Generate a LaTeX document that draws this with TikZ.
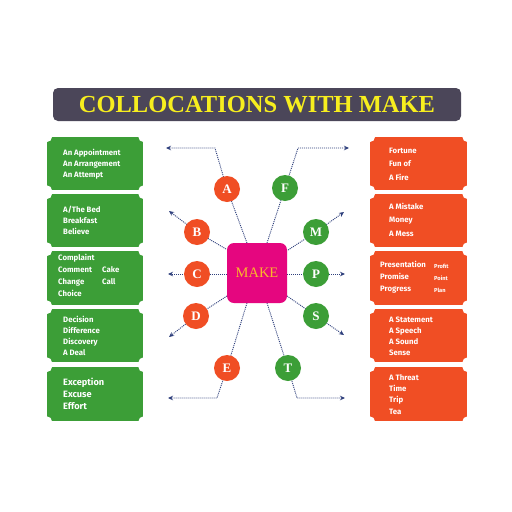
\documentclass[tikz,border=0pt]{standalone}
\usepackage{fontspec}
\setmainfont{Liberation Serif}
\newfontfamily\boxfont{Fira Sans}
\usetikzlibrary{arrows.meta}
\definecolor{titlebg}{HTML}{4B4659}
\definecolor{titlefg}{HTML}{F7EE1E}
\definecolor{grn}{HTML}{3C9E37}
\definecolor{org}{HTML}{F04E24}
\definecolor{mag}{HTML}{E5067F}
\definecolor{mktxt}{HTML}{F9B92A}
\definecolor{navy}{HTML}{2E3F7C}
\pgfdeclarelayer{back}
\pgfdeclarelayer{bg}
\pgfsetlayers{back,bg,main}
\begin{document}
\begin{tikzpicture}[x=1pt,y=-1pt,
  panel/.style={minimum width=96pt, inner sep=0, anchor=north west, draw=none},
  lbl/.style={anchor=mid west, inner sep=0, text=white, font=\boxfont\bfseries\fontsize{7.8}{9}\selectfont},
  biglbl/.style={lbl, font=\boxfont\bfseries\fontsize{9.2}{10}\selectfont},
  smalllbl/.style={lbl, font=\boxfont\bfseries\fontsize{5.7}{7}\selectfont},
  dot/.style={circle, minimum size=26pt, inner sep=0, text=white, font=\bfseries\fontsize{13}{13}\selectfont},
  dl/.style={draw=navy, line width=0.9pt, dash pattern=on 1pt off 1pt},
  ar/.style={dl, -{Stealth[length=5pt,width=4.5pt]}}
]
\begin{pgfonlayer}{back}
\fill[white] (0,0) rectangle (512,512);
\end{pgfonlayer}
\useasboundingbox (0,0) rectangle (512,512);

% title
\node[fill=titlebg, rounded corners=5pt, minimum width=408pt, minimum height=33pt, inner sep=0,
      text=titlefg, font=\bfseries\fontsize{24.5}{26}\selectfont] (title) at (257,104.5) {COLLOCATIONS WITH MAKE};

% panels
\foreach \t/\h [count=\i] in {137/53,194/53,251/54,309/53,367/54}{
  \node[panel, fill=grn, minimum height=\h pt] (pl\i) at (47,\t) {};
  \node[panel, fill=org, minimum width=97pt, minimum height=\h pt] (pr\i) at (370,\t) {};
}
\foreach \n in {pl1,pl2,pl3,pl4,pl5,pr1,pr2,pr3,pr4,pr5}
  \foreach \a in {north west,north east,south west,south east}
    \fill[white] (\n.\a) circle (5pt);

% left texts
\foreach \s [count=\i] in {An Appointment,An Arrangement,An Attempt}
  \node[lbl] (ta\i) at (63,{153+11*(\i-1)}) {\s};
\foreach \s [count=\i] in {A/The Bed,Breakfast,Believe}
  \node[lbl] (tb\i) at (63,{210+11*(\i-1)}) {\s};
\foreach \s [count=\i] in {Complaint,Comment,Change,Choice}
  \node[lbl] (tc\i) at (58,{258+12*(\i-1)}) {\s};
\node[lbl] (tc5) at (102,270) {Cake};
\node[lbl] (tc6) at (102,282) {Call};
\foreach \s [count=\i] in {Decision,Difference,Discovery,A Deal}
  \node[lbl] (td\i) at (63,{320+11*(\i-1)}) {\s};
\foreach \s [count=\i] in {Exception,Excuse,Effort}
  \node[biglbl] (te\i) at (63,{383+12*(\i-1)}) {\s};

% right texts
\foreach \s [count=\i] in {Fortune,Fun of,A Fire}
  \node[lbl] (tf\i) at (389,{151+13.5*(\i-1)}) {\s};
\foreach \s [count=\i] in {A Mistake,Money,A Mess}
  \node[lbl] (tm\i) at (389,{207+13.5*(\i-1)}) {\s};
\foreach \s [count=\i] in {Presentation,Promise,Progress}
  \node[lbl] (tp\i) at (380,{265+12*(\i-1)}) {\s};
\foreach \s [count=\i] in {Profit,Point,Plan}
  \node[smalllbl] (tq\i) at (434,{266+12*(\i-1)}) {\s};
\foreach \s [count=\i] in {A Statement,A Speech,A Sound,Sense}
  \node[lbl] (ts\i) at (389,{320+11*(\i-1)}) {\s};
\foreach \s [count=\i] in {A Threat,Time,Trip,Tea}
  \node[lbl] (tt\i) at (389,{378+11.3*(\i-1)}) {\s};

% centre
\node[fill=mag, rounded corners=7pt, minimum size=60pt, inner sep=0, text=mktxt,
      font=\fontsize{14.5}{14}\selectfont] (mk) at (257,273) {MAKE};

% circles
\node[dot, fill=org] (A) at (227,189) {A};
\node[dot, fill=grn] (F) at (285,188) {F};
\node[dot, fill=org] (B) at (197,232) {B};
\node[dot, fill=grn] (M) at (316,232) {M};
\node[dot, fill=org] (C) at (197,274) {C};
\node[dot, fill=grn] (P) at (316,274) {P};
\node[dot, fill=org] (D) at (196,316) {D};
\node[dot, fill=grn] (S) at (316,316) {S};
\node[dot, fill=org] (E) at (227,368) {E};
\node[dot, fill=grn] (T) at (288,368) {T};

% coordinates
\coordinate (sA) at (247,243); \coordinate (bA) at (215,148); \coordinate (eA) at (166,148);
\coordinate (sF) at (267,243); \coordinate (bF) at (298,148); \coordinate (eF) at (349,148);
\coordinate (sB) at (226,249); \coordinate (eB) at (169,211);
\coordinate (sM) at (288,250); \coordinate (eM) at (344,212);
\coordinate (sC) at (227,274); \coordinate (eC) at (168,274);
\coordinate (sP) at (287,274); \coordinate (eP) at (345,274);
\coordinate (sD) at (227,296); \coordinate (eD) at (169,337);
\coordinate (sS) at (287,296); \coordinate (eS) at (344,335);
\coordinate (sE) at (247,303); \coordinate (bE) at (217,398); \coordinate (eE) at (168,398);
\coordinate (sT) at (267,303); \coordinate (bT) at (297,398); \coordinate (eT) at (345,398);

\begin{pgfonlayer}{bg}
  \draw[ar] (sA) -- (A.center) -- (bA) -- (eA);
  \draw[ar] (sF) -- (F.center) -- (bF) -- (eF);
  \draw[ar] (sB) -- (B.center) -- (eB);
  \draw[ar] (sM) -- (M.center) -- (eM);
  \draw[ar] (sC) -- (C.center) -- (eC);
  \draw[ar] (sP) -- (P.center) -- (eP);
  \draw[ar] (sD) -- (D.center) -- (eD);
  \draw[ar] (sS) -- (S.center) -- (eS);
  \draw[ar] (sE) -- (E.center) -- (bE) -- (eE);
  \draw[ar] (sT) -- (T.center) -- (bT) -- (eT);
\end{pgfonlayer}
\end{tikzpicture}
\end{document}
